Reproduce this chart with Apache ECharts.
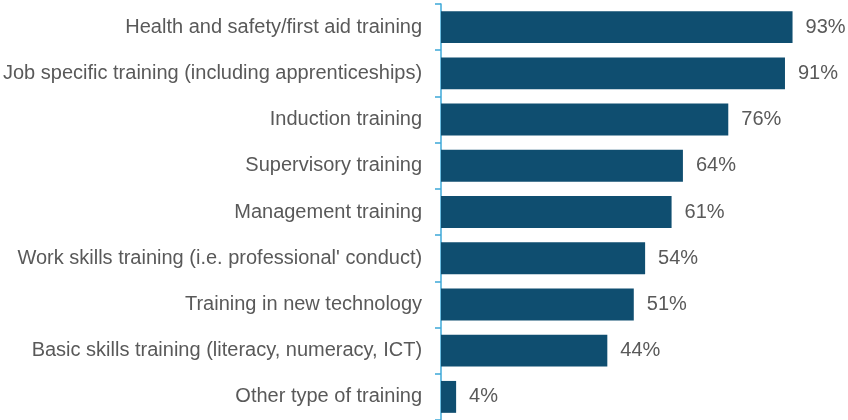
<!DOCTYPE html>
<html>
<head>
<meta charset="utf-8">
<script src="https://cdn.jsdelivr.net/npm/echarts@6/dist/echarts.min.js"></script>
<style>html,body{margin:0;padding:0;background:#fff}#c{width:848px;height:420px}</style>
</head>
<body>
<div id="c"></div>
<script>
const categories = [
  "Health and safety/first aid training",
  "Job specific training (including apprenticeships)",
  "Induction training",
  "Supervisory training",
  "Management training",
  "Work skills training (i.e. professional' conduct)",
  "Training in new technology",
  "Basic skills training (literacy, numeracy, ICT)",
  "Other type of training"
];
const values = [93, 91, 76, 64, 61, 54, 51, 44, 4];

const chart = echarts.init(document.getElementById('c'), null, {renderer: 'canvas'});
chart.setOption({
  animation: false,
  backgroundColor: '#ffffff',
  grid: {left: 439, right: 29, top: 4, bottom: 0, containLabel: false},
  xAxis: {
    type: 'value', min: -0.5, max: 100,
    show: false
  },
  yAxis: {
    type: 'category',
    inverse: true,
    data: categories,
    axisLine: {show: true, lineStyle: {color: '#3da8d8', width: 1.5}},
    axisTick: {show: true, length: 6, lineStyle: {color: '#3da8d8', width: 1.5}},
    axisLabel: {color: '#595959', fontSize: 20, fontFamily: 'Liberation Sans, Arial, sans-serif', margin: 17}
  },
  series: [{
    type: 'bar',
    data: values,
    barCategoryGap: '31%',
    itemStyle: {color: '#0f4e70'},
    label: {
      show: true, position: 'right', distance: 13,
      formatter: p => p.value + '%',
      color: '#595959', fontSize: 20, fontFamily: 'Liberation Sans, Arial, sans-serif'
    }
  }]
});
</script>
</body>
</html>
